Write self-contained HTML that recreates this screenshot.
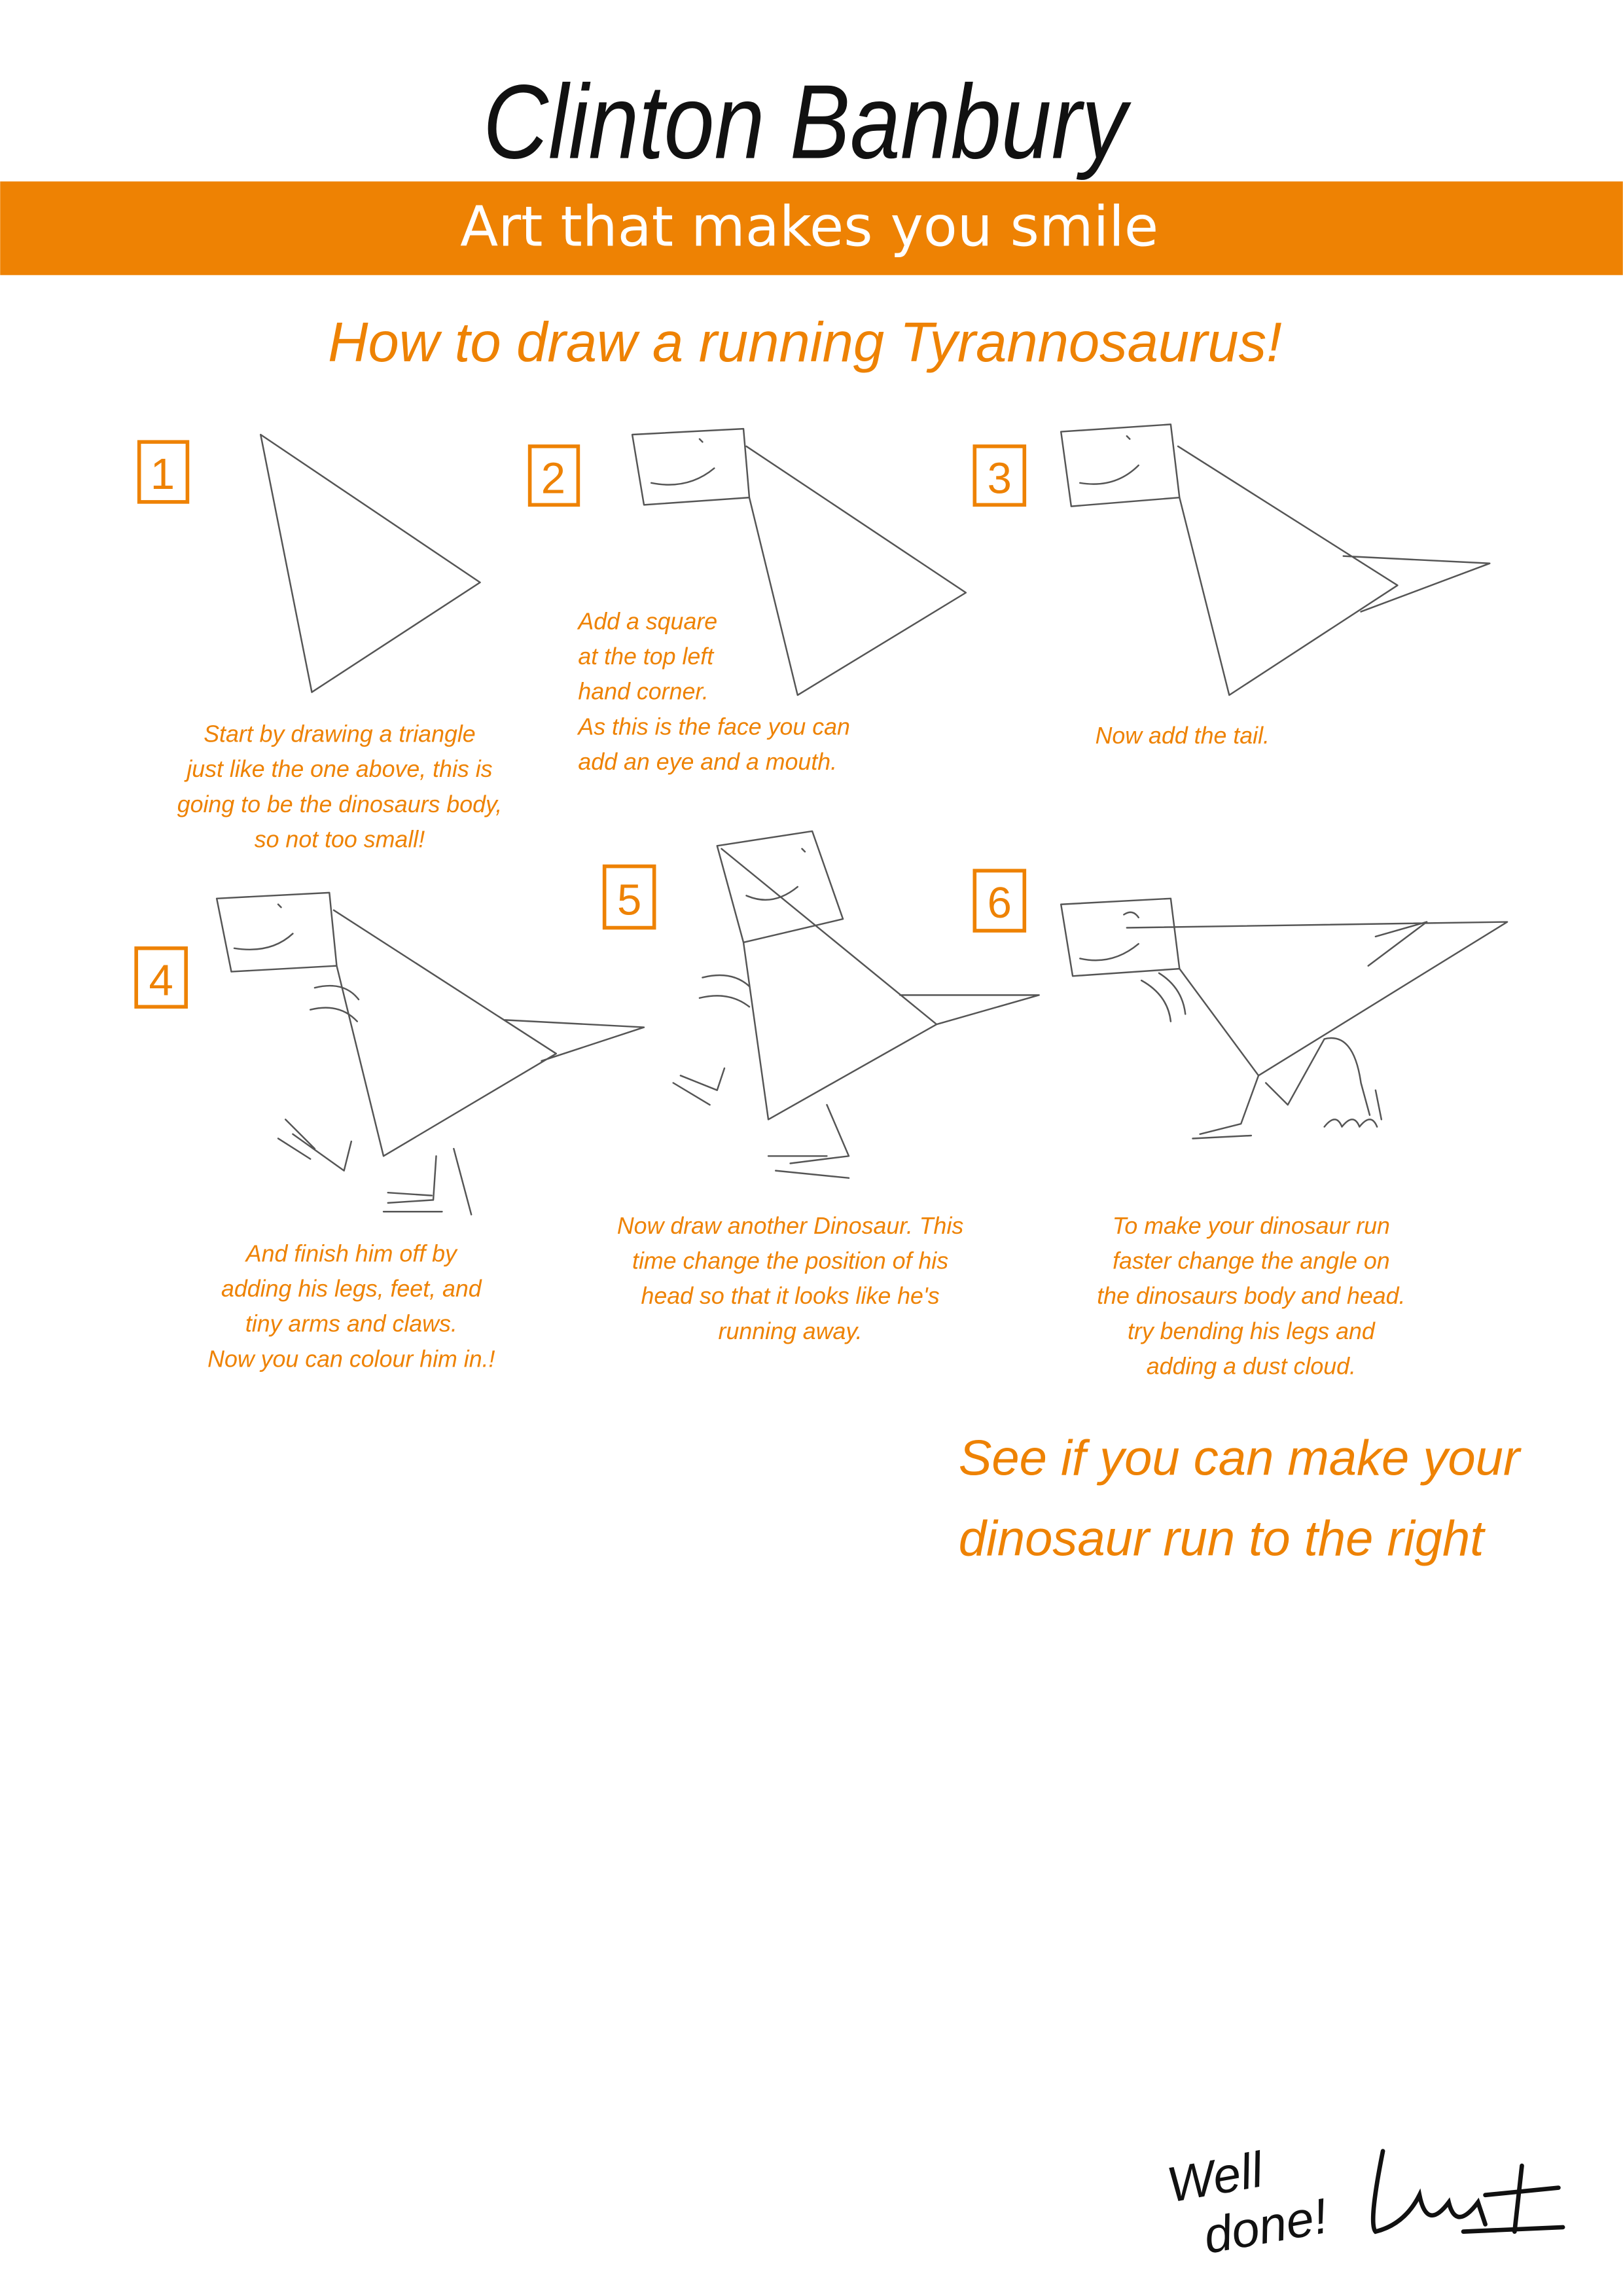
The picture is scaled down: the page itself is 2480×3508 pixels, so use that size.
<!DOCTYPE html>
<html><head><meta charset="utf-8">
<style>
html,body{margin:0;padding:0;background:#fff;}
svg{display:block;}
.o{fill:#EE8203;font-family:"Liberation Sans",sans-serif;font-style:italic;}
.h{font-size:16px;}
.p{fill:none;stroke:#555;stroke-width:1.1;stroke-linejoin:round;stroke-linecap:round;}
.b{fill:none;stroke:#EE8203;stroke-width:2.5;}
.n{fill:#EE8203;font-family:"Liberation Sans",sans-serif;font-size:30px;}
</style></head>
<body>
<svg width="2480" height="3508" viewBox="0 0 1109 1569" xmlns="http://www.w3.org/2000/svg">
<rect width="1109" height="1569" fill="#fff"/>
<text x="330" y="108" textLength="440" lengthAdjust="spacingAndGlyphs" font-family="Liberation Sans,sans-serif" font-size="72" fill="#111" font-style="italic">Clinton Banbury</text>
<rect x="0" y="124" width="1109" height="64" fill="#EE8203"/>
<text x="553" y="168" text-anchor="middle" font-family="DejaVu Sans,sans-serif" font-size="38" fill="#fff">Art that makes you smile</text>
<text x="550" y="247" text-anchor="middle" class="o" font-size="38">How to draw a running Tyrannosaurus!</text>

<rect x="95" y="302" width="33" height="41" class="b"/><text x="111" y="334" text-anchor="middle" class="n">1</text>
<rect x="362" y="305" width="33" height="40" class="b"/><text x="378" y="337" text-anchor="middle" class="n">2</text>
<rect x="666" y="305" width="34" height="40" class="b"/><text x="683" y="337" text-anchor="middle" class="n">3</text>
<rect x="93" y="648" width="34" height="40" class="b"/><text x="110" y="680" text-anchor="middle" class="n">4</text>
<rect x="413" y="592" width="34" height="42" class="b"/><text x="430" y="625" text-anchor="middle" class="n">5</text>
<rect x="666" y="595" width="34" height="41" class="b"/><text x="683" y="627" text-anchor="middle" class="n">6</text>

<path class="p" d="M178 297 L328 398 L213 473 Z"/>
<path class="p" d="M432 297 L508 293 L512 340 L440 345 Z M510 305 L660 405 L545 475 L512 340"/>
<path class="p" d="M445 330 Q470 335 488 320 M478 300 l2 2"/>
<path class="p" d="M725 295 L800 290 L806 340 L732 346 Z M805 305 L955 400 L840 475 L806 340 M918 380 L1018 385 L930 418"/>
<path class="p" d="M738 330 Q762 334 778 318 M770 298 l2 2"/>
<path class="p" d="M148 614 L225 610 L230 660 L158 664 Z M228 622 L380 720 L262 790 L230 660 M345 697 L440 702 L370 725"/>
<path class="p" d="M160 648 Q185 652 200 638 M190 618 l2 2 M215 675 q20 -5 30 8 M212 690 q20 -5 32 8 M240 780 L235 800 L200 775 M195 765 l20 20 M190 778 l22 14 M298 790 L296 820 L265 822 M310 785 L322 830 M265 815 l30 2 M262 828 l40 0"/>
<path class="p" d="M490 578 L555 568 L576 628 L508 644 Z M493 580 L640 700 L525 765 L508 644 M615 680 L710 680 L640 700"/>
<path class="p" d="M510 612 Q528 620 545 606 M548 580 l2 2 M480 668 q20 -5 32 6 M478 682 q20 -5 34 6 M495 730 L490 745 L465 735 M460 740 l25 15 M565 755 L580 790 L540 795 M530 800 l50 5 M525 790 l40 0"/>
<path class="p" d="M725 618 L800 614 L806 662 L733 667 Z M770 634 L1030 630 L860 735 L806 662 M940 640 L975 630 L935 660"/>
<path class="p" d="M738 655 Q760 660 778 645 M768 625 q6 -4 10 2 M780 670 q18 10 20 28 M792 665 q16 10 18 28 M860 735 L848 768 L820 775 M815 778 l40 -2 M865 740 L880 755 L905 710 Q925 705 930 740 M930 740 l6 22 M940 745 l4 20 M905 770 q8 -10 12 0 q8 -10 12 0 q8 -10 12 0"/>

<g class="o h">
<text x="232" y="507" text-anchor="middle">Start by drawing a triangle</text>
<text x="232" y="531" text-anchor="middle">just like the one above, this is</text>
<text x="232" y="555" text-anchor="middle">going to be the dinosaurs body,</text>
<text x="232" y="579" text-anchor="middle">so not too small!</text>
<text x="395" y="430">Add a square</text>
<text x="395" y="454">at the top left</text>
<text x="395" y="478">hand corner.</text>
<text x="395" y="502">As this is the face you can</text>
<text x="395" y="526">add an eye and a mouth.</text>
<text x="808" y="508" text-anchor="middle">Now add the tail.</text>
<text x="240" y="862" text-anchor="middle">And finish him off by</text>
<text x="240" y="886" text-anchor="middle">adding his legs, feet, and</text>
<text x="240" y="910" text-anchor="middle">tiny arms and claws.</text>
<text x="240" y="934" text-anchor="middle">Now you can colour him in.!</text>
<text x="540" y="843" text-anchor="middle">Now draw another Dinosaur. This</text>
<text x="540" y="867" text-anchor="middle">time change the position of his</text>
<text x="540" y="891" text-anchor="middle">head so that it looks like he's</text>
<text x="540" y="915" text-anchor="middle">running away.</text>
<text x="855" y="843" text-anchor="middle">To make your dinosaur run</text>
<text x="855" y="867" text-anchor="middle">faster change the angle on</text>
<text x="855" y="891" text-anchor="middle">the dinosaurs body and head.</text>
<text x="855" y="915" text-anchor="middle">try bending his legs and</text>
<text x="855" y="939" text-anchor="middle">adding a dust cloud.</text>
</g>
<text x="655" y="1008" class="o" font-size="34">See if you can make your</text>
<text x="655" y="1063" class="o" font-size="34">dinosaur run to the right</text>

<text x="800" y="1505" font-family="Liberation Sans,sans-serif" font-style="italic" font-size="34" fill="#111" transform="rotate(-10 800 1505)">Well</text>
<text x="825" y="1540" font-family="Liberation Sans,sans-serif" font-style="italic" font-size="34" fill="#111" transform="rotate(-10 825 1540)">done!</text>
<path d="M945 1470 Q935 1520 940 1525 Q960 1520 970 1500 Q975 1525 990 1505 Q995 1525 1010 1505 L1015 1520 M1040 1480 L1035 1525 M1015 1500 L1065 1495 M1000 1525 L1068 1522" fill="none" stroke="#111" stroke-width="3" stroke-linecap="round"/>
</svg>
</body></html>
